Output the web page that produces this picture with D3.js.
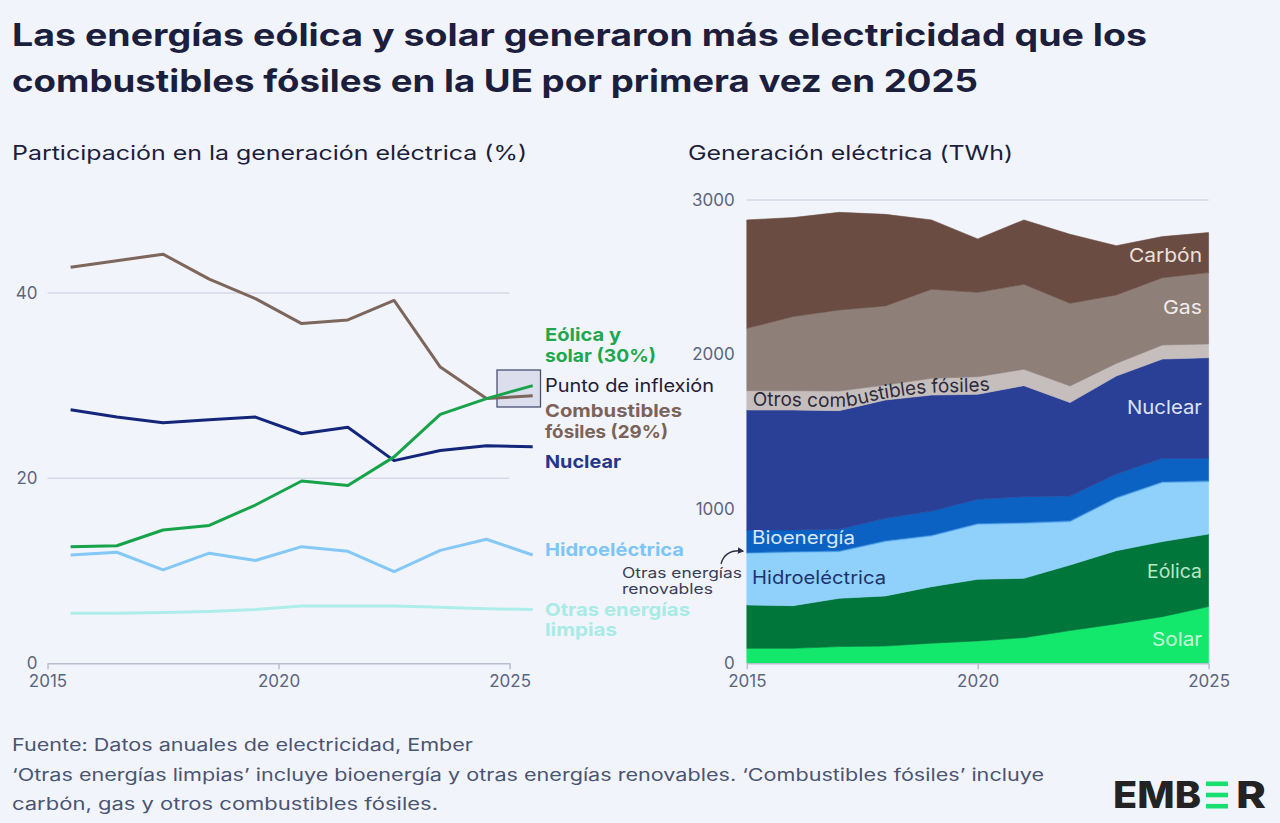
<!DOCTYPE html>
<html>
<head>
<meta charset="utf-8">
<script src="https://cdn.jsdelivr.net/npm/d3@7"></script>
<style>
  body { margin: 0; background: #f2f4fb; }
  svg { display: block; font-family: "Inter", "Open Sans", sans-serif; }
</style>
</head>
<body>
<div id="vis"></div>
<script>
const FRAME_WIDTH = 1280;
const FRAME_HEIGHT = 823;

// years shown on both charts
const YEARS = [2015, 2016, 2017, 2018, 2019, 2020, 2021, 2022, 2023, 2024, 2025];

// left chart: share of generation (%)
const SHARE_FOSSIL = [42.8, 43.5, 44.2, 41.5, 39.4, 36.7, 37.1, 39.2, 32.0, 28.6, 28.9];
const SHARE_WIND_SOLAR = [12.6, 12.7, 14.4, 14.9, 17.1, 19.7, 19.2, 22.3, 26.9, 28.6, 30.0];
const SHARE_NUCLEAR = [27.4, 26.6, 26.0, 26.3, 26.6, 24.8, 25.5, 21.9, 23.0, 23.5, 23.4];
const SHARE_HYDRO = [11.7, 12.0, 10.1, 11.9, 11.1, 12.6, 12.1, 9.9, 12.2, 13.4, 11.7];
const SHARE_OTHER_CLEAN = [5.4, 5.4, 5.5, 5.6, 5.8, 6.2, 6.2, 6.2, 6.05, 5.9, 5.8];

// right chart: generation (TWh)
const TWH_SOLAR = [97, 97, 108, 112, 130, 145, 166, 212, 255, 302, 367];
const TWH_WIND = [281, 276, 313, 324, 366, 399, 384, 425, 474, 486, 470];
const TWH_HYDRO = [334, 346, 302, 352, 328, 356, 356, 280, 339, 382, 339];
const TWH_OTHER_RENEW = [6, 6, 6, 7, 7, 7, 7, 7, 7, 7, 7];
const TWH_BIO = [145, 138, 139, 144, 155, 155, 166, 159, 151, 150, 144];
const TWH_NUCLEAR = [777, 777, 768, 766, 751, 680, 719, 605, 634, 643, 652];
const TWH_OTHER_FOSSIL = [125, 125, 127, 97, 108, 114, 106, 108, 82, 91, 89];
const TWH_GAS = [404, 480, 525, 512, 577, 546, 550, 535, 443, 436, 462];
const TWH_COAL = [702, 641, 632, 593, 449, 346, 417, 447, 319, 266, 259];

const LEFT_TICKS_Y = [0, 20, 40];
const RIGHT_TICKS_Y = [0, 1000, 2000, 3000];
const TICKS_X = [2015, 2020, 2025];

const FRAME = d3.select("#vis")
  .append("svg")
  .attr("width", FRAME_WIDTH)
  .attr("height", FRAME_HEIGHT);

FRAME.append("rect")
  .attr("width", FRAME_WIDTH)
  .attr("height", FRAME_HEIGHT)
  .attr("fill", "#f2f4fb");

const TEXT_DARK = "#1b1e3c";
const AXIS_TEXT = "#5b6580";

// helper for texts that should span a known width
const addText = (x, y, str, size, weight, fill, len, anchor) => {
  const t = FRAME.append("text")
    .attr("x", x).attr("y", y)
    .attr("font-size", size)
    .attr("font-weight", weight)
    .attr("fill", fill)
    .attr("text-anchor", anchor || "start")
    .text(str);
  if (len) t.attr("textLength", len).attr("lengthAdjust", "spacingAndGlyphs");
  return t;
};

// Title and subtitles
addText(12, 46, "Las energías eólica y solar generaron más electricidad que los", 31, 700, TEXT_DARK, 1135);
addText(12, 92, "combustibles fósiles en la UE por primera vez en 2025", 31, 700, TEXT_DARK, 966);
addText(12, 160, "Participación en la generación eléctrica (%)", 20, 400, TEXT_DARK, 515);
addText(688, 160, "Generación eléctrica (TWh)", 20, 400, TEXT_DARK, 325);

// ---------- Left chart ----------
const X_LEFT = d3.scaleLinear().domain([2015, 2025]).range([47.5, 509.6]);
const Y_LEFT = d3.scaleLinear().domain([0, 50]).range([663.3, 200.5]);

FRAME.append("g")
  .selectAll("line")
  .data(LEFT_TICKS_Y.filter((d) => d > 0))
  .enter()
  .append("line")
  .attr("x1", X_LEFT(2015)).attr("x2", X_LEFT(2025))
  .attr("y1", (d) => Y_LEFT(d)).attr("y2", (d) => Y_LEFT(d))
  .attr("stroke", "#d6dae7").attr("stroke-width", 1.5);

const LEFT_Y_AXIS = FRAME.append("g")
  .attr("transform", `translate(${X_LEFT(2015)}, 0)`)
  .call(d3.axisLeft(Y_LEFT).tickValues(LEFT_TICKS_Y).tickSize(0).tickPadding(10));
LEFT_Y_AXIS.select(".domain").remove();
LEFT_Y_AXIS.selectAll("text").attr("font-size", 17).attr("fill", AXIS_TEXT).attr("font-family", "Inter");

const LEFT_X_AXIS = FRAME.append("g")
  .attr("transform", `translate(0, ${Y_LEFT(0)})`)
  .call(d3.axisBottom(X_LEFT).tickValues(TICKS_X).tickFormat(d3.format("d")).tickSize(6).tickSizeOuter(0).tickPadding(6));
LEFT_X_AXIS.select(".domain").attr("stroke", "#b9bed0").attr("stroke-width", 1.5);
LEFT_X_AXIS.selectAll("line").attr("stroke", "#b9bed0").attr("stroke-width", 1.5);
LEFT_X_AXIS.selectAll("text").attr("font-size", 17).attr("fill", AXIS_TEXT).attr("font-family", "Inter");

// inflection box
FRAME.append("rect")
  .attr("x", 497).attr("y", 370)
  .attr("width", 43.5).attr("height", 37)
  .attr("fill", "#dcdeee")
  .attr("stroke", "#4a5070").attr("stroke-width", 1.3);

const LEFT_SERIES = [
  { values: SHARE_OTHER_CLEAN, color: "#aeeeea" },
  { values: SHARE_HYDRO, color: "#84c8f8" },
  { values: SHARE_NUCLEAR, color: "#13267a" },
  { values: SHARE_FOSSIL, color: "#7d665b" },
  { values: SHARE_WIND_SOLAR, color: "#17a34a" }
];

const lineLeft = d3.line()
  .x((d, i) => X_LEFT(YEARS[i] + 0.5))
  .y((d) => Y_LEFT(d));

FRAME.append("g")
  .selectAll("path")
  .data(LEFT_SERIES)
  .enter()
  .append("path")
  .attr("d", (d) => lineLeft(d.values))
  .attr("fill", "none")
  .attr("stroke", (d) => d.color)
  .attr("stroke-width", 3)
  .attr("stroke-linejoin", "round");

// left labels
addText(545, 341, "Eólica y", 18, 700, "#1ea84d", 76);
addText(545, 362, "solar (30%)", 18, 700, "#1ea84d", 111);
addText(545, 392, "Punto de inflexión", 18, 400, "#1d2035", 169);
addText(545, 417, "Combustibles", 18, 700, "#7a6358", 137);
addText(545, 438, "fósiles (29%)", 18, 700, "#7a6358", 123);
addText(545, 468, "Nuclear", 18, 700, "#25368a", 76);
addText(545, 556, "Hidroeléctrica", 18, 700, "#7cc5f6", 139);
addText(545, 616, "Otras energías", 18, 700, "#a8ebe6", 145);
addText(545, 636, "limpias", 18, 700, "#a8ebe6", 72);

// ---------- Right chart ----------
const X_RIGHT = d3.scaleLinear().domain([2015, 2025]).range([746.8, 1208.6]);
const Y_RIGHT = d3.scaleLinear().domain([0, 3000]).range([663.3, 200]);

const KEYS = ["solar", "wind", "hydro", "otherRenew", "bio", "nuclear", "otherFossil", "gas", "coal"];
const COLORS = {
  solar: "#14e86c",
  wind: "#00763a",
  hydro: "#90d1fb",
  otherRenew: "#4fa4ec",
  bio: "#0b62c2",
  nuclear: "#2a3f96",
  otherFossil: "#c6bebd",
  gas: "#8e7f79",
  coal: "#6a4c42"
};

const TABLE = YEARS.map((y, i) => ({
  year: y,
  solar: TWH_SOLAR[i],
  wind: TWH_WIND[i],
  hydro: TWH_HYDRO[i],
  otherRenew: TWH_OTHER_RENEW[i],
  bio: TWH_BIO[i],
  nuclear: TWH_NUCLEAR[i],
  otherFossil: TWH_OTHER_FOSSIL[i],
  gas: TWH_GAS[i],
  coal: TWH_COAL[i]
}));

const STACK = d3.stack().keys(KEYS)(TABLE);

FRAME.append("g")
  .selectAll("line")
  .data(RIGHT_TICKS_Y.filter((d) => d > 0))
  .enter()
  .append("line")
  .attr("x1", X_RIGHT(2015)).attr("x2", X_RIGHT(2025))
  .attr("y1", (d) => Y_RIGHT(d)).attr("y2", (d) => Y_RIGHT(d))
  .attr("stroke", "#d6dae7").attr("stroke-width", 1.5);

const area = d3.area()
  .x((d) => X_RIGHT(d.data.year))
  .y0((d) => Y_RIGHT(d[0]))
  .y1((d) => Y_RIGHT(d[1]));

FRAME.append("g")
  .selectAll("path")
  .data(STACK)
  .enter()
  .append("path")
  .attr("d", area)
  .attr("fill", (d) => COLORS[d.key])
  .attr("stroke", (d) => COLORS[d.key])
  .attr("stroke-width", 0.6);

const RIGHT_Y_AXIS = FRAME.append("g")
  .attr("transform", `translate(${X_RIGHT(2015)}, 0)`)
  .call(d3.axisLeft(Y_RIGHT).tickValues(RIGHT_TICKS_Y).tickFormat(d3.format("d")).tickSize(0).tickPadding(12));
RIGHT_Y_AXIS.select(".domain").remove();
RIGHT_Y_AXIS.selectAll("text").attr("font-size", 17).attr("fill", AXIS_TEXT).attr("font-family", "Inter");

const RIGHT_X_AXIS = FRAME.append("g")
  .attr("transform", `translate(0, ${Y_RIGHT(0)})`)
  .call(d3.axisBottom(X_RIGHT).tickValues(TICKS_X).tickFormat(d3.format("d")).tickSize(6).tickSizeOuter(0).tickPadding(6));
RIGHT_X_AXIS.select(".domain").attr("stroke", "#b9bed0").attr("stroke-width", 1.5);
RIGHT_X_AXIS.selectAll("line").attr("stroke", "#b9bed0").attr("stroke-width", 1.5);
RIGHT_X_AXIS.selectAll("text").attr("font-size", 17).attr("fill", AXIS_TEXT).attr("font-family", "Inter");

// curved label along the "other fossil" band
const OF_LAYER = STACK.find((s) => s.key === "otherFossil");
const midLine = d3.line()
  .x((d) => X_RIGHT(d.data.year))
  .y((d) => Y_RIGHT((d[0] + d[1]) / 2))
  .curve(d3.curveMonotoneX);
FRAME.append("defs").append("path")
  .attr("id", "ofPath")
  .attr("d", midLine(OF_LAYER));
FRAME.append("text")
  .attr("font-size", 19)
  .attr("fill", "#2a2b3e")
  .attr("dy", 6)
  .append("textPath")
  .attr("href", "#ofPath")
  .attr("startOffset", 6)
  .text("Otros combustibles fósiles");

// right labels
addText(1202, 262, "Carbón", 19, 400, "#eee0da", 73, "end");
addText(1202, 314, "Gas", 19, 400, "#f1ecea", 39, "end");
addText(1202, 414, "Nuclear", 19, 400, "#dbe3ff", 75, "end");
addText(1202, 578, "Eólica", 19, 400, "#b9e6c6", 55, "end");
addText(1202, 646, "Solar", 19, 400, "#c9f9dc", 50, "end");

addText(752, 544, "Bioenergía", 18, 400, "#dbe7ff", 103);
addText(752, 584, "Hidroeléctrica", 18, 400, "#1d3370", 134);

// other renewables annotation
addText(622, 578, "Otras energías", 14.5, 400, "#3a3f55", 120);
addText(622, 594, "renovables", 14.5, 400, "#3a3f55", 91);
FRAME.append("defs").append("marker")
  .attr("id", "arrow")
  .attr("viewBox", "0 0 10 10")
  .attr("refX", 8).attr("refY", 5)
  .attr("markerWidth", 5).attr("markerHeight", 5)
  .attr("orient", "auto")
  .append("path")
  .attr("d", "M0,0 L10,5 L0,10 Z")
  .attr("fill", "#2c2f45");
FRAME.append("path")
  .attr("d", "M721,564 Q725,549 743,551")
  .attr("fill", "none")
  .attr("stroke", "#2c2f45")
  .attr("stroke-width", 1.3)
  .attr("marker-end", "url(#arrow)");

// footer
addText(12, 751, "Fuente: Datos anuales de electricidad, Ember", 17, 400, "#4a5573", 461);
addText(12, 781, "‘Otras energías limpias’ incluye bioenergía y otras energías renovables. ‘Combustibles fósiles’ incluye", 17, 400, "#4a5573", 1032);
addText(12, 810, "carbón, gas y otros combustibles fósiles.", 17, 400, "#4a5573", 426);

// logo
addText(1113, 808, "EMB", 37, 800, "#232323", 88);
addText(1236, 808, "R", 37, 800, "#232323", 30);
FRAME.append("g")
  .selectAll("rect")
  .data([0, 1, 2])
  .enter()
  .append("rect")
  .attr("x", 1206).attr("y", (d) => 781.5 + d * 11.2)
  .attr("width", 22).attr("height", 4.6)
  .attr("fill", "#17e06f");
</script>
</body>
</html>
